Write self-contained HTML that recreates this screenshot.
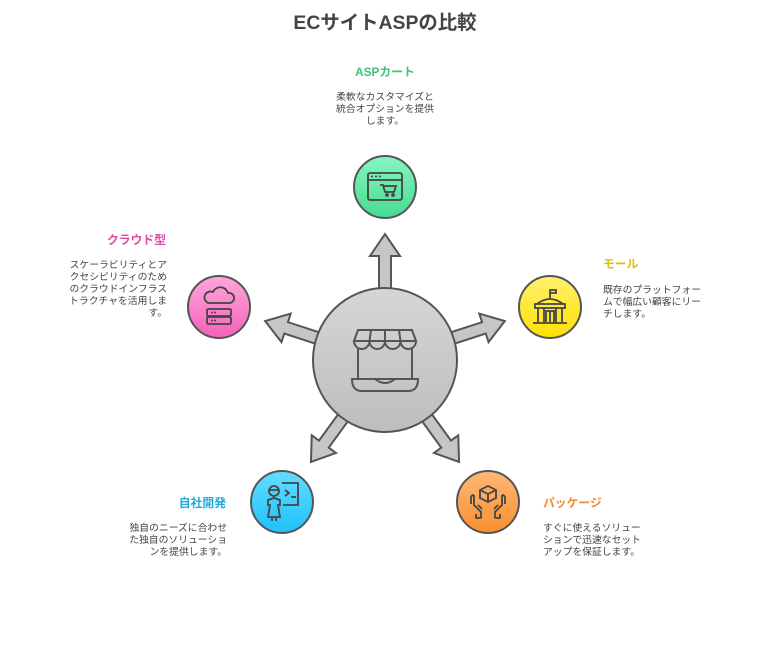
<!DOCTYPE html>
<html><head><meta charset="utf-8"><style>
html,body{margin:0;padding:0;background:#fff;width:770px;height:662px;overflow:hidden}
svg text{font-family:"Liberation Sans","Noto Sans CJK JP",sans-serif}
.t{font-weight:bold;font-size:11.8px}
.b{font-size:9.8px;fill:#444}
</style></head><body>
<svg width="770" height="662" viewBox="0 0 770 662" xmlns="http://www.w3.org/2000/svg">
<defs>
<linearGradient id="gc" x1="0" y1="0" x2="0" y2="1"><stop offset="0" stop-color="#d6d6d6"/><stop offset="1" stop-color="#bdbdbd"/></linearGradient>
<linearGradient id="gg" x1="0" y1="0" x2="0" y2="1"><stop offset="0" stop-color="#86f5c0"/><stop offset="1" stop-color="#46dc92"/></linearGradient>
<linearGradient id="gy" x1="0" y1="0" x2="0" y2="1"><stop offset="0" stop-color="#fff070"/><stop offset="1" stop-color="#ffe000"/></linearGradient>
<linearGradient id="gp" x1="0" y1="0" x2="0" y2="1"><stop offset="0" stop-color="#ffa6dc"/><stop offset="1" stop-color="#f462b8"/></linearGradient>
<linearGradient id="gb" x1="0" y1="0" x2="0" y2="1"><stop offset="0" stop-color="#66dcff"/><stop offset="1" stop-color="#1cc2fa"/></linearGradient>
<linearGradient id="go" x1="0" y1="0" x2="0" y2="1"><stop offset="0" stop-color="#ffb878"/><stop offset="1" stop-color="#f8902e"/></linearGradient>
<polygon id="arr" points="379,300 379,256 370,256 385,234 400,256 391,256 391,300" fill="#c6c6c6" stroke="#555" stroke-width="2" stroke-linejoin="miter"/>
</defs>
<text x="385" y="29" text-anchor="middle" font-size="19.4" font-weight="bold" fill="#444">ECサイトASPの比較</text>

<use href="#arr"/>
<use href="#arr" transform="rotate(72 385 360)"/>
<use href="#arr" transform="rotate(144 385 360)"/>
<use href="#arr" transform="rotate(216 385 360)"/>
<use href="#arr" transform="rotate(288 385 360)"/>
<circle cx="385" cy="360" r="72" fill="url(#gc)" stroke="#555" stroke-width="2"/>
<g fill="none" stroke="#555" stroke-width="2">
<path d="M354,341 L358,330 H412 L416,341 Z"/>
<path d="M354,341 a7.7,8 0 0 0 15.5,0 a7.7,8 0 0 0 15.5,0 a7.7,8 0 0 0 15.5,0 a7.7,8 0 0 0 15.5,0"/>
<path d="M371,330 L369.5,341 M385,330 V341 M399,330 L400.5,341"/>
<path d="M358,348 V379 M412,348 V379"/>
<path d="M352,379 H418 q0,12 -10,12 H362 q-10,0 -10,-12 Z"/>
<path d="M375,379 q10,8 20,0"/>
</g>

<circle cx="385" cy="187" r="31" fill="url(#gg)" stroke="#555" stroke-width="2"/>
<g fill="none" stroke="#444" stroke-width="1.8"><rect x="368" y="173" width="34" height="27" rx="2"/><path d="M368,180 H402 M380,185 h3 l2,7 h9 l2,-6 h-12"/><circle cx="387" cy="195" r="1"/><circle cx="393" cy="195" r="1"/></g>
<g fill="#444"><circle cx="372" cy="176.5" r="1"/><circle cx="376" cy="176.5" r="1"/><circle cx="380" cy="176.5" r="1"/></g>

<circle cx="550" cy="307" r="31" fill="url(#gy)" stroke="#555" stroke-width="2"/>
<g fill="none" stroke="#444" stroke-width="1.8"><path d="M550,298 V290 h6 v3 h-6 M537,304 q13,-10 26,0 Z M535,304 h30 v4 h-30 z M538,308 v14 M562,308 v14 M544,308 v14 M556,308 v14 M546,322 v-11 h8 v11 M550,311 v11 M533,323 h34"/></g>

<circle cx="219" cy="307" r="31" fill="url(#gp)" stroke="#555" stroke-width="2"/>
<g fill="none" stroke="#444" stroke-width="1.8"><path d="M208,303 h22 a5,5 0 0 0 -2,-10 a8,8 0 0 0 -15,-1 a6,6 0 0 0 -5,11 Z"/><rect x="207" y="309" width="24" height="7" rx="1.5"/><rect x="207" y="317" width="24" height="7" rx="1.5"/></g>
<g fill="#444"><circle cx="212" cy="312.5" r="1"/><circle cx="215" cy="312.5" r="1"/><circle cx="212" cy="320.5" r="1"/><circle cx="215" cy="320.5" r="1"/></g>

<circle cx="282" cy="502" r="31" fill="url(#gb)" stroke="#555" stroke-width="2"/>
<g fill="none" stroke="#444" stroke-width="1.8"><circle cx="274" cy="491" r="5"/><path d="M269,490 h10 M282,483 h16 v22 h-15 M285,490 l4,3 -4,3 M291,497 h5 M268,500 l6,-2 6,2 v5 l-2,0 2,12 h-12 l2,-12 h-2 z M272,517 v4 M276,517 v4"/></g>

<circle cx="488" cy="502" r="31" fill="url(#go)" stroke="#555" stroke-width="2"/>
<g fill="none" stroke="#444" stroke-width="1.8"><path d="M488,486 l8,4 v8 l-8,4 -8,-4 v-8 z M480,490 l8,4 8,-4 M488,494 v8"/><path d="M474,495 v10 l7,7 v6 M474,495 q-3,0 -3,3 v6 M481,518 h-5 v-4 M478,505 l4,4 M502,495 v10 l-7,7 v6 M502,495 q3,0 3,3 v6 M495,518 h5 v-4 M498,505 l-4,4"/></g>

<text class="t" x="385" y="76" text-anchor="middle" fill="#3cc47c">ASPカート</text>
<text class="b" x="385" y="100" text-anchor="middle">柔軟なカスタマイズと</text>
<text class="b" x="385" y="112" text-anchor="middle">統合オプションを提供</text>
<text class="b" x="385" y="124" text-anchor="middle">します。</text>

<text class="t" x="603" y="268" fill="#e0c000">モール</text>
<text class="b" x="603" y="293">既存のプラットフォー</text>
<text class="b" x="603" y="305">ムで幅広い顧客にリー</text>
<text class="b" x="603" y="317">チします。</text>

<text class="t" x="166" y="244" text-anchor="end" fill="#e04aa0">クラウド型</text>
<text class="b" x="167" y="268" text-anchor="end">スケーラビリティとア</text>
<text class="b" x="167" y="280" text-anchor="end">クセシビリティのため</text>
<text class="b" x="167" y="292" text-anchor="end">のクラウドインフラス</text>
<text class="b" x="167" y="304" text-anchor="end">トラクチャを活用しま</text>
<text class="b" x="167" y="316" text-anchor="end">す。</text>

<text class="t" x="226" y="507" text-anchor="end" fill="#20a8e0">自社開発</text>
<text class="b" x="227" y="531" text-anchor="end">独自のニーズに合わせ</text>
<text class="b" x="227" y="543" text-anchor="end">た独自のソリューショ</text>
<text class="b" x="227" y="555" text-anchor="end">ンを提供します。</text>

<text class="t" x="543" y="507" fill="#f08a30">パッケージ</text>
<text class="b" x="543" y="531">すぐに使えるソリュー</text>
<text class="b" x="543" y="543">ションで迅速なセット</text>
<text class="b" x="543" y="555">アップを保証します。</text>
</svg>
</body></html>
